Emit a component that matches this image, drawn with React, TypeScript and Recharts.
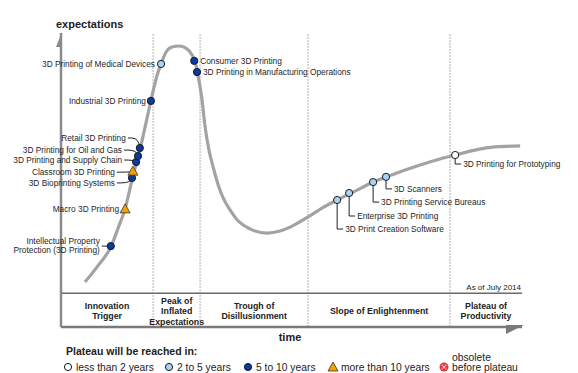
import React from 'react';
import { ComposedChart, Line, Scatter, XAxis, YAxis, ReferenceLine } from 'recharts';

// hype curve, time (0-100) vs expectations (0-100)
const CURVE_X = [5.2, 8.0, 10.9, 12.4, 13.9, 15.4, 17.1, 19.5, 20.8, 21.7, 22.8, 24.1, 25.6, 27.1, 28.4, 29.1, 29.7, 30.6, 31.2, 32.1, 33.0, 34.1, 35.1, 36.7, 38.2, 41.0, 44.7, 47.5, 49.7, 53.6, 56.6, 59.9, 62.5, 65.1, 67.7, 70.5, 73.5, 77.9, 82.2, 85.5, 89.8, 94.1, 99.6];
const CURVE_Y = [4.3, 10.5, 18.1, 25.1, 32.4, 43.5, 55.0, 73.9, 83.5, 88.1, 92.7, 94.6, 95.0, 94.2, 91.6, 88.9, 83.8, 74.3, 64.7, 55.0, 48.5, 41.6, 36.9, 31.9, 28.2, 24.7, 23.1, 23.9, 25.4, 29.3, 32.7, 35.8, 38.1, 40.4, 42.7, 44.7, 46.6, 49.3, 51.6, 53.1, 55.0, 56.2, 56.6];

const TECH_NAMES = [
  'Intellectual Property Protection (3D Printing)',
  'Macro 3D Printing',
  '3D Bioprinting Systems',
  'Classroom 3D Printing',
  '3D Printing and Supply Chain',
  '3D Printing for Oil and Gas',
  'Retail 3D Printing',
  'Industrial 3D Printing',
  '3D Printing of Medical Devices',
  'Consumer 3D Printing',
  '3D Printing in Manufacturing Operations',
  '3D Print Creation Software',
  'Enterprise 3D Printing',
  '3D Printing Service Bureaus',
  '3D Scanners',
  '3D Printing for Prototyping',
];
const TECH_X = [10.8, 13.9, 15.4, 15.6, 16.3, 16.7, 17.1, 19.5, 21.7, 28.9, 29.5, 59.9, 62.5, 67.7, 70.5, 85.5];
const TECH_Y = [18.1, 32.4, 44.3, 46.9, 50.4, 52.7, 55.8, 73.9, 88.1, 89.3, 85.0, 35.8, 38.5, 42.7, 44.7, 53.1];
const TECH_PLATEAU = ['5to10', 'gt10', '5to10', 'gt10', '5to10', '5to10', '5to10', '5to10', '2to5', '5to10', '5to10', '2to5', '2to5', '2to5', '2to5', 'lt2'];

const PHASE_BOUNDS = [20, 30.2, 53.6, 84.4];
const PHASE_NAMES = [
  ['Innovation', 'Trigger'],
  ['Peak of', 'Inflated', 'Expectations'],
  ['Trough of', 'Disillusionment'],
  ['Slope of Enlightenment'],
  ['Plateau of', 'Productivity'],
];

const LEGEND_KEYS = ['lt2', '2to5', '5to10', 'gt10', 'obsolete'];
const LEGEND_LABELS = [['less than 2 years'], ['2 to 5 years'], ['5 to 10 years'], ['more than 10 years'], ['obsolete', 'before plateau']];

// label placement (pixels relative to the marker)
const LABEL_LAYOUT: Record<string, any> = {
  'Intellectual Property Protection (3D Printing)': { side: 'left', dx: -11, dy: 0, lines: ['Intellectual Property', 'Protection (3D Printing)'], link: 'straight' },
  'Macro 3D Printing': { side: 'left', dx: -6, dy: 0 },
  '3D Bioprinting Systems': { side: 'left', dx: -17, dy: 5, link: 'curve' },
  'Classroom 3D Printing': { side: 'left', dx: -18, dy: 1, link: 'curve' },
  '3D Printing and Supply Chain': { side: 'left', dx: -14, dy: -2, link: 'curve' },
  '3D Printing for Oil and Gas': { side: 'left', dx: -16, dy: -6, link: 'curve' },
  'Retail 3D Printing': { side: 'left', dx: -14, dy: -10, link: 'curve' },
  'Industrial 3D Printing': { side: 'left', dx: -5, dy: 0 },
  '3D Printing of Medical Devices': { side: 'left', dx: -6, dy: 0 },
  'Consumer 3D Printing': { side: 'right', dx: 6, dy: 0 },
  '3D Printing in Manufacturing Operations': { side: 'right', dx: 6, dy: 0 },
  '3D Print Creation Software': { side: 'drop', drop: 29 },
  'Enterprise 3D Printing': { side: 'drop', drop: 23 },
  '3D Printing Service Bureaus': { side: 'drop', drop: 20 },
  '3D Scanners': { side: 'drop', drop: 12 },
  '3D Printing for Prototyping': { side: 'drop', drop: 9 },
};

const FONT = '"Liberation Sans", Arial, sans-serif';
const W = 578;
const H = 373;
const MARGIN = { top: 33, right: 56, bottom: 46, left: 61 };
const PLOT_W = W - MARGIN.left - MARGIN.right;
const px = (x: number) => MARGIN.left + (x / 100) * PLOT_W;

const FILLS: Record<string, string> = { lt2: '#ffffff', '2to5': '#a9d3f3', '5to10': '#0b3b9c', gt10: '#f2a100' };

const curveData = CURVE_X.map((x, i) => ({ x, y: CURVE_Y[i] }));
const techData = TECH_NAMES.map((name, i) => ({ name, x: TECH_X[i], y: TECH_Y[i], plateau: TECH_PLATEAU[i] }));

function Marker({ kind, cx, cy }: { kind: string; cx: number; cy: number }) {
  if (kind === 'gt10') {
    return <polygon points={`${cx},${cy - 5} ${cx + 5},${cy + 4} ${cx - 5},${cy + 4}`} fill={FILLS.gt10} stroke="#333" strokeWidth={0.8} />;
  }
  if (kind === 'obsolete') {
    return (
      <g>
        <circle cx={cx} cy={cy} r={4.5} fill="#e8383d" />
        <path d={`M${cx - 2.2},${cy - 2.2}L${cx + 2.2},${cy + 2.2}M${cx + 2.2},${cy - 2.2}L${cx - 2.2},${cy + 2.2}`} stroke="#fff" strokeWidth={1.2} strokeDasharray="1 0.8" />
      </g>
    );
  }
  return <circle cx={cx} cy={cy} r={3.6} fill={FILLS[kind]} stroke="#1a1a1a" strokeWidth={1} />;
}

function TechPoint(props: any) {
  const { cx, cy, payload } = props;
  const lay = LABEL_LAYOUT[payload.name] || { side: 'right', dx: 6, dy: 0 };
  const textProps = { fontFamily: FONT, fontSize: 8.3, fill: '#1e1e1e' };
  let label: React.ReactNode = null;
  let link: React.ReactNode = null;

  if (lay.side === 'drop') {
    const by = cy + lay.drop;
    link = <path d={`M${cx},${cy}V${by}H${cx + 6}`} stroke="#222" strokeWidth={1} fill="none" />;
    label = <text x={cx + 8} y={by} dy="0.35em" {...textProps}>{payload.name}</text>;
  } else {
    const tx = cx + lay.dx;
    const ty = cy + lay.dy;
    const anchor = lay.side === 'left' ? 'end' : 'start';
    if (lay.lines) {
      label = (
        <text x={tx} y={ty} textAnchor={anchor} {...textProps}>
          <tspan x={tx} dy="-0.3em">{lay.lines[0]}</tspan>
          <tspan x={tx} dy="1.1em">{lay.lines[1]}</tspan>
        </text>
      );
    } else {
      label = <text x={tx} y={ty} dy="0.35em" textAnchor={anchor} {...textProps}>{payload.name}</text>;
    }
    if (lay.link === 'straight') {
      link = <path d={`M${tx + 2},${cy}H${cx}`} stroke="#222" strokeWidth={1} fill="none" />;
    } else if (lay.link === 'curve') {
      link = <path d={`M${tx + 2},${ty}H${tx + 6}Q${cx - 1},${ty} ${cx},${cy}`} stroke="#222" strokeWidth={1} fill="none" />;
    }
  }

  return (
    <g>
      {link}
      {label}
      <Marker kind={payload.plateau} cx={cx} cy={cy} />
    </g>
  );
}

function Overlay() {
  const edges = [0, ...PHASE_BOUNDS, 100];
  const bold = { fontFamily: FONT, fontWeight: 700, fill: '#222' };
  const legendX = [68, 169, 248, 333, 444];
  return (
    <svg width={W} height={H} style={{ position: 'absolute', left: 0, top: 0, pointerEvents: 'none' }}>
      {/* axis arrow heads */}
      <polygon points="62,32 62,47 56,47" fill="#8a8a8a" />
      <polygon points="506,325 524,325 506,334" fill="#7a7a7a" />

      <text x={521} y={287} dy="0.35em" textAnchor="end" fontFamily={FONT} fontSize={8} fill="#222">As of July 2014</text>
      <text x={56} y={24} dy="0.35em" fontSize={11} {...bold}>expectations</text>

      {PHASE_NAMES.map((lines, i) => {
        const cx = (px(edges[i]) + px(edges[i + 1])) / 2;
        const startY = 311 - ((lines.length - 1) * 10.5) / 2;
        return (
          <text key={i} textAnchor="middle" fontSize={8.8} {...bold}>
            {lines.map((l, j) => (
              <tspan key={j} x={cx} y={startY + j * 10.5} dy="0.35em">{l}</tspan>
            ))}
          </text>
        );
      })}

      <text x={290} y={337} dy="0.35em" textAnchor="middle" fontSize={11} {...bold}>time</text>
      <text x={66} y={351} dy="0.35em" fontSize={10.5} {...bold}>Plateau will be reached in:</text>

      {LEGEND_KEYS.map((k, i) => (
        <g key={k}>
          <Marker kind={k} cx={legendX[i]} cy={367} />
          {LEGEND_LABELS[i].map((l, j) => (
            <text key={j} x={legendX[i] + 8} y={367 - (LEGEND_LABELS[i].length - 1 - j) * 10} dy="0.35em" fontFamily={FONT} fontSize={10.3} fill="#222">{l}</text>
          ))}
        </g>
      ))}
    </svg>
  );
}

export default function App() {
  return (
    <div style={{ position: 'absolute', left: 0, top: 0, width: W, height: H, background: '#fff' }}>
      <ComposedChart width={W} height={H} data={curveData} margin={MARGIN}>
        <XAxis type="number" dataKey="x" domain={[0, 100]} hide />
        <YAxis type="number" domain={[-13, 100]} hide />
        {PHASE_BOUNDS.map((b) => (
          <ReferenceLine key={b} x={b} stroke="#d6d6d6" strokeWidth={2} strokeDasharray="2 1" />
        ))}
        <ReferenceLine y={0} stroke="#6a6a6a" strokeWidth={1.5} />
        <ReferenceLine y={-13} stroke="#7a7a7a" strokeWidth={2.5} />
        <ReferenceLine x={0} stroke="#8a8a8a" strokeWidth={2.5} />
        <Line type="monotone" dataKey="y" stroke="#a3a3a3" strokeWidth={3.2} dot={false} activeDot={false} isAnimationActive={false} />
        <Scatter data={techData} dataKey="y" shape={TechPoint} isAnimationActive={false} />
      </ComposedChart>
      <Overlay />
    </div>
  );
}
